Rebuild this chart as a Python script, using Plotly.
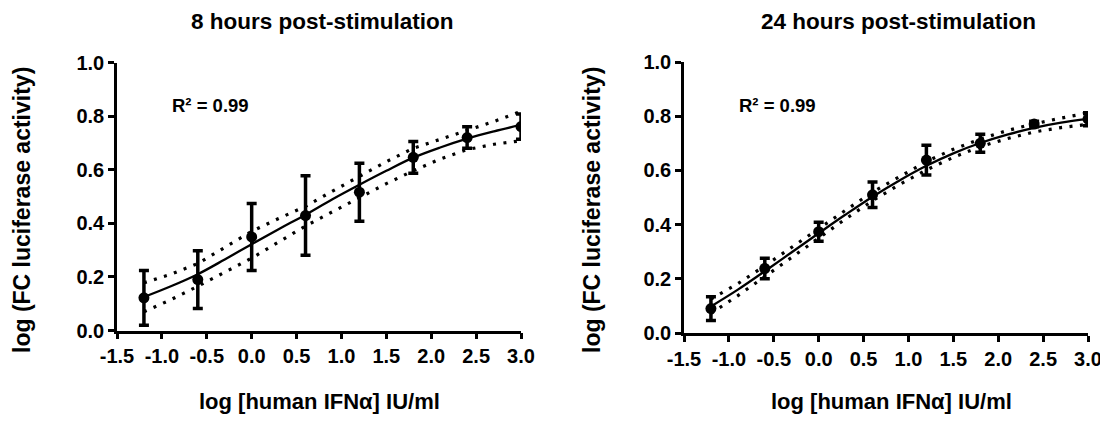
import plotly.graph_objects as go

# ---- data ----
dose_log = [-1.2, -0.6, 0.0, 0.6, 1.2, 1.8, 2.4, 3.0]

mean_8h = [0.122, 0.19, 0.349, 0.429, 0.516, 0.646, 0.72, 0.761]
err_8h = [0.102, 0.108, 0.125, 0.148, 0.108, 0.059, 0.04, 0.047]

mean_24h = [0.09, 0.238, 0.374, 0.51, 0.638, 0.70, 0.771, 0.789]
err_24h = [0.044, 0.038, 0.035, 0.047, 0.055, 0.033, 0.01, 0.024]

fit_x = [-1.2, -0.9, -0.6, -0.3, 0.0, 0.3, 0.6, 0.9, 1.2, 1.5, 1.8, 2.1, 2.4, 2.7, 3.0]

fit_8h = [0.125, 0.165, 0.21, 0.265, 0.322, 0.378, 0.432, 0.49, 0.544, 0.596, 0.645,
          0.683, 0.716, 0.743, 0.767]
upper_8h = [0.178, 0.21, 0.25, 0.31, 0.37, 0.418, 0.463, 0.52, 0.575, 0.63, 0.68,
            0.713, 0.745, 0.78, 0.818]
lower_8h = [0.07, 0.115, 0.165, 0.218, 0.27, 0.33, 0.39, 0.443, 0.495, 0.548, 0.596,
            0.64, 0.675, 0.695, 0.708]

fit_24h = [0.098, 0.16, 0.228, 0.298, 0.368, 0.437, 0.503, 0.563, 0.617, 0.663, 0.701,
           0.732, 0.757, 0.776, 0.79]
upper_24h = [0.125, 0.182, 0.248, 0.317, 0.385, 0.453, 0.52, 0.578, 0.633, 0.678, 0.716,
             0.747, 0.772, 0.793, 0.812]
lower_24h = [0.072, 0.138, 0.208, 0.279, 0.352, 0.421, 0.488, 0.548, 0.602, 0.648, 0.688,
             0.717, 0.742, 0.758, 0.77]

x_ticks = [-1.5, -1.0, -0.5, 0.0, 0.5, 1.0, 1.5, 2.0, 2.5, 3.0]
y_ticks = [0.0, 0.2, 0.4, 0.6, 0.8, 1.0]

titles = ["8 hours post-stimulation", "24 hours post-stimulation"]
x_title = "log [human IFNα] IU/ml"
y_title = "log (FC luciferase activity)"
r2_text = "R² = 0.99"

# ---- figure ----
FONT = "Liberation Sans, Arial, sans-serif"
# page body has an 8px default margin; figure fills the rest of the 1108x441 window
OFF = 8
W, H = 1108.0 - OFF, 441.0 - OFF
fig = go.Figure()

panels = [
    (mean_8h, err_8h, fit_8h, upper_8h, lower_8h, "x", "y"),
    (mean_24h, err_24h, fit_24h, upper_24h, lower_24h, "x2", "y2"),
]

for mean, err, fit, up, lo, xa, ya in panels:
    for band in (up, lo):
        fig.add_trace(go.Scatter(
            x=fit_x, y=band, mode="lines", xaxis=xa, yaxis=ya,
            line=dict(color="black", width=3.2, dash="3px,7.5px"),
            showlegend=False, hoverinfo="skip"))
    fig.add_trace(go.Scatter(
        x=fit_x, y=fit, mode="lines", xaxis=xa, yaxis=ya,
        line=dict(color="black", width=2.3, shape="spline"),
        showlegend=False))
    fig.add_trace(go.Scatter(
        x=dose_log, y=mean, mode="markers", xaxis=xa, yaxis=ya,
        marker=dict(color="black", size=11),
        error_y=dict(type="data", array=err, color="black", thickness=3.5, width=5),
        showlegend=False))

axis_common = dict(
    showgrid=False, zeroline=False, showline=True, linecolor="black", linewidth=2.5,
    ticks="outside", ticklen=6, tickwidth=2.5, tickcolor="black",
    tickfont=dict(family=FONT, size=20, color="black", weight="bold"),
    automargin=False,
)

# plot areas in window pixels: (left, right, top, bottom)
areas = [(117, 521, 62.5, 330.5), (684, 1088, 62, 333)]
x_domains = [[(a[0] - OFF) / W, (a[1] - OFF) / W] for a in areas]
y_domains = [[1 - (a[3] - OFF) / H, 1 - (a[2] - OFF) / H] for a in areas]

xt = [f"{v:.1f}" for v in x_ticks]
yt = [f"{v:.1f}" for v in y_ticks]
fig.update_layout(
    width=int(W), height=int(H),
    margin=dict(l=0, r=0, t=0, b=0, pad=0, autoexpand=False),
    paper_bgcolor="white", plot_bgcolor="white",
    xaxis=dict(domain=x_domains[0], range=[-1.5, 3.0], tickvals=x_ticks, ticktext=xt,
               anchor="y", **axis_common),
    yaxis=dict(domain=y_domains[0], range=[0, 1.0], tickvals=y_ticks, ticktext=yt,
               anchor="x", **axis_common),
    xaxis2=dict(domain=x_domains[1], range=[-1.5, 3.0], tickvals=x_ticks, ticktext=xt,
                anchor="y2", **axis_common),
    yaxis2=dict(domain=y_domains[1], range=[0, 1.0], tickvals=y_ticks, ticktext=yt,
                anchor="x2", **axis_common),
)


def font(sz):
    return dict(family=FONT, size=sz, color="black", weight="bold")


# (title center x, x-title center x, y-title center x) in window pixels
text_pos = [(322, 319, 22), (898, 891, 592)]
anns = []
for i, t in enumerate(titles):
    tx, xx, yx = text_pos[i]
    anns.append(dict(text=t, x=(tx - OFF) / W, y=1 - (21 - OFF) / H,
                     xref="paper", yref="paper", xanchor="center", yanchor="middle",
                     showarrow=False, font=font(22.5)))
    anns.append(dict(text=x_title, x=(xx - OFF) / W, y=1 - (401 - OFF) / H,
                     xref="paper", yref="paper", xanchor="center", yanchor="middle",
                     showarrow=False, font=font(22)))
    anns.append(dict(text=y_title, x=(yx - OFF) / W, y=1 - (210 - OFF) / H,
                     xref="paper", yref="paper", xanchor="center", yanchor="middle",
                     textangle=-90, showarrow=False, font=font(23)))
    anns.append(dict(text=r2_text, x=-0.91, y=0.841,
                     xref="x" if i == 0 else "x2", yref="y" if i == 0 else "y2",
                     xanchor="left", yanchor="middle", showarrow=False, font=font(18.5)))
fig.update_layout(annotations=anns)

fig.write_html("out.html")
